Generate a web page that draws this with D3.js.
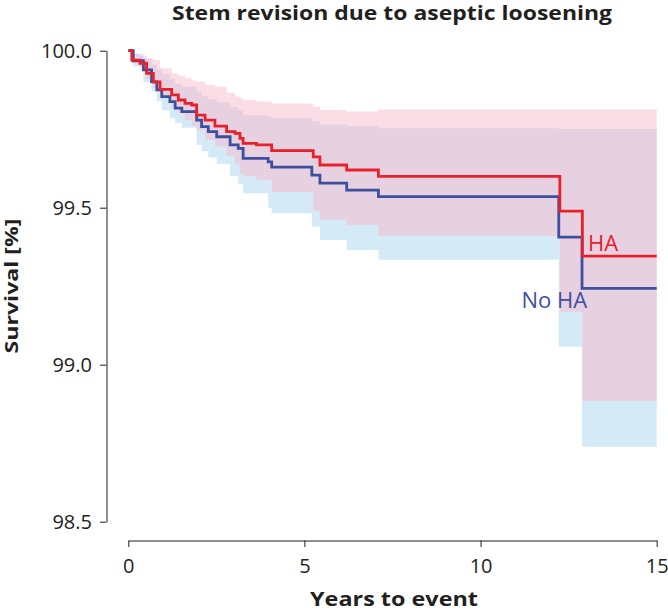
<!DOCTYPE html>
<html>
<head>
<meta charset="utf-8">
<script src="https://cdn.jsdelivr.net/npm/d3@7"></script>
<style>
	body { margin: 0; background: #fff; }
	text { font-family: "Open Sans", sans-serif; fill: #231f20; }
</style>
</head>
<body>
<svg id="chart" width="668" height="612"></svg>
<script>
// Kaplan-Meier, HA group (red)
var haTime  = [0, 0.10, 0.33, 0.52, 0.71, 0.90, 1.23, 1.42, 1.61, 1.80, 1.94, 2.18, 2.46, 2.79, 3.03, 3.17, 3.26, 3.64, 4.07, 5.25, 5.44, 6.20, 7.10, 12.25, 12.89, 15];
var haSurv  = [100, 99.970, 99.960, 99.928, 99.901, 99.877, 99.859, 99.843, 99.832, 99.827, 99.795, 99.779, 99.760, 99.742, 99.737, 99.721, 99.705, 99.700, 99.682, 99.662, 99.636, 99.620, 99.600, 99.489, 99.346, 99.346];
var haUpper = [100, 99.990, 99.985, 99.975, 99.970, 99.944, 99.928, 99.920, 99.912, 99.905, 99.901, 99.891, 99.885, 99.866, 99.854, 99.850, 99.843, 99.838, 99.832, 99.822, 99.811, 99.806, 99.813, 99.813, 99.813, 99.813];
var haLower = [100, 99.960, 99.939, 99.910, 99.880, 99.854, 99.820, 99.800, 99.779, 99.760, 99.747, 99.716, 99.695, 99.665, 99.641, 99.610, 99.600, 99.588, 99.550, 99.490, 99.461, 99.445, 99.410, 99.169, 98.885, 98.885];

// No HA group (blue)
var noHaTime  = [0, 0.14, 0.43, 0.66, 0.81, 0.95, 1.18, 1.33, 1.52, 1.94, 2.08, 2.27, 2.51, 2.89, 3.12, 3.26, 3.97, 4.07, 5.21, 5.44, 6.20, 7.10, 12.22, 12.88, 15];
var noHaSurv  = [100, 99.968, 99.939, 99.901, 99.875, 99.854, 99.838, 99.817, 99.806, 99.779, 99.758, 99.742, 99.726, 99.700, 99.689, 99.657, 99.646, 99.629, 99.604, 99.578, 99.556, 99.535, 99.406, 99.243, 99.243];
var noHaUpper = [100, 99.990, 99.975, 99.955, 99.940, 99.925, 99.910, 99.895, 99.885, 99.870, 99.855, 99.845, 99.835, 99.820, 99.810, 99.795, 99.790, 99.785, 99.775, 99.765, 99.760, 99.753, 99.751, 99.751, 99.751];
var noHaLower = [100, 99.950, 99.900, 99.870, 99.840, 99.810, 99.785, 99.770, 99.755, 99.700, 99.680, 99.660, 99.640, 99.600, 99.575, 99.546, 99.500, 99.482, 99.440, 99.397, 99.365, 99.334, 99.057, 98.739, 98.739];

var xTicks = [0, 5, 10, 15];
var yTicks = [98.5, 99.0, 99.5, 100.0];

var colHA = "#e8202a", colNoHA = "#3d4f9f";
var bandHA = "#fbdde5", bandNoHA = "#d5eaf7", bandBoth = "#e7d0df";

var svg = d3.select("#chart");

var x = d3.scaleLinear().domain([0, 15]).range([128.3, 656.7]);
var y = d3.scaleLinear().domain([98.5, 100]).range([521.7, 50.7]);

function rows(t, s, lo, hi) {
	return t.map(function(d, i) { return {t: d, s: s[i], lo: lo[i], hi: hi[i]}; });
}
var ha = rows(haTime, haSurv, haLower, haUpper);
var noHa = rows(noHaTime, noHaSurv, noHaLower, noHaUpper);

var area = d3.area()
	.curve(d3.curveStepAfter)
	.x(function(d) { return x(d.t); })
	.y0(function(d) { return y(d.lo); })
	.y1(function(d) { return y(d.hi); });

var line = d3.line()
	.curve(d3.curveStepAfter)
	.x(function(d) { return x(d.t); })
	.y(function(d) { return y(d.s); });

// bandas de confiança
svg.append("clipPath").attr("id", "noHaClip")
	.append("path").attr("d", area(noHa));

svg.append("path").attr("d", area(noHa)).attr("fill", bandNoHA);
svg.append("path").attr("d", area(ha)).attr("fill", bandHA);
svg.append("path").attr("d", area(ha)).attr("fill", bandBoth).attr("clip-path", "url(#noHaClip)");

// curvas
svg.append("path").attr("d", line(noHa))
	.attr("fill", "none").attr("stroke", colNoHA).attr("stroke-width", 2.8);
svg.append("path").attr("d", line(ha))
	.attr("fill", "none").attr("stroke", colHA).attr("stroke-width", 2.8);

// eixos
var yAxis = svg.append("g")
	.attr("transform", "translate(106.5,0)")
	.call(d3.axisLeft(y).tickValues(yTicks).tickFormat(d3.format(".1f"))
		.tickSize(6.5).tickSizeOuter(0).tickPadding(8));

var xAxis = svg.append("g")
	.attr("transform", "translate(0,540.5)")
	.call(d3.axisBottom(x).tickValues(xTicks)
		.tickSize(6.5).tickSizeOuter(0).tickPadding(12));

svg.selectAll(".tick text").attr("font-size", 20).attr("font-family", null).style("fill", "#231f20");
svg.selectAll(".domain, .tick line").attr("stroke", "#231f20").attr("stroke-width", 1);

// textos
svg.append("text")
	.attr("x", 392).attr("y", 20)
	.attr("text-anchor", "middle")
	.attr("font-size", 20).attr("font-weight", "bold")
	.attr("textLength", 440).attr("lengthAdjust", "spacingAndGlyphs")
	.text("Stem revision due to aseptic loosening");

svg.append("text")
	.attr("x", 394).attr("y", 606)
	.attr("text-anchor", "middle")
	.attr("font-size", 19).attr("font-weight", "bold")
	.attr("textLength", 168).attr("lengthAdjust", "spacingAndGlyphs")
	.text("Years to event");

svg.append("text")
	.attr("transform", "translate(18,286) rotate(-90)")
	.attr("text-anchor", "middle")
	.attr("font-size", 18).attr("font-weight", "bold")
	.attr("textLength", 135).attr("lengthAdjust", "spacingAndGlyphs")
	.text("Survival [%]");

svg.append("text")
	.attr("x", 588).attr("y", 250.5)
	.attr("font-size", 22)
	.style("fill", colHA)
	.text("HA");

svg.append("text")
	.attr("x", 521.5).attr("y", 308)
	.attr("font-size", 22)
	.style("fill", colNoHA)
	.text("No HA");
</script>
</body>
</html>
